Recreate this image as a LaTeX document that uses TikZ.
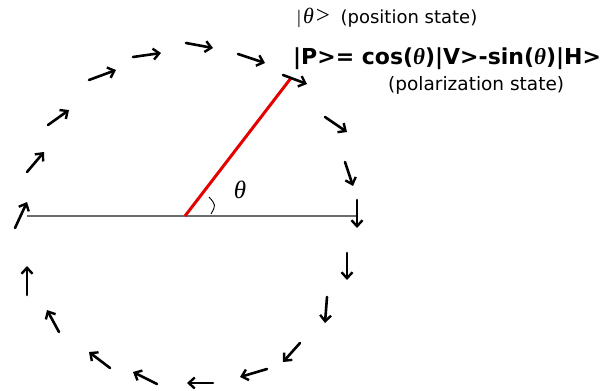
\documentclass[tikz,border=0pt]{standalone}
\usepackage{fontspec}
\setmainfont{DejaVu Sans}
\newfontfamily\serfont{Liberation Serif}
\usetikzlibrary{arrows.meta}
\newcommand\thsym[1]{{\serfont\itshape\fontsize{#1}{#1}\selectfont θ}}
\newcommand\serchar[2]{{\serfont\fontsize{#1}{#1}\selectfont #2}}
\tikzset{
  fieldarrow/.style={line width=2.6pt, black, line cap=round, -{Straight Barb[length=6pt,width=11pt,line width=2.4pt]}},
  label/.style={inner sep=0pt, anchor=base west, text=black},
}
\begin{document}
\begin{tikzpicture}[x=1pt,y=-1pt]
\useasboundingbox (0,0) rectangle (601,390);
% axis and polarization line
\coordinate (Lft) at (27,216);
\coordinate (Rgt) at (356,216);
\coordinate (O) at (185,216);
\coordinate (P) at (291,78);
\draw[line width=1.8pt, black!58] (Lft) -- (Rgt);
\draw[line width=3pt, red!90!black] (O) -- (P);
% angle mark
\coordinate (a1) at (211,214);
\coordinate (a2) at (216,205);
\coordinate (a3) at (209,197);
\draw[line width=0.9pt] (a1) .. controls (a2) .. (a3);
\node[inner sep=0pt] (th) at (240,190) {\thsym{25}};
% arrows around the circle
\foreach \tx/\ty/\hx/\hy in {
  15/228/27/202, 27/172/44/152, 48/125/69/110, 89/80/116/70,
  133/57/161/53, 186/43/213/48, 238/54/265/63, 283/75/307/84,
  325/117/347/132, 345/162/353/186, 357/200/357/228,
  347/253/347/280, 327/297/325/323, 300/343/283/362,
  267/369/240/377, 213/383/187/383, 157/384/133/372,
  110/368/89/352, 59/332/47/310, 27/295/27/266}{
  \draw[fieldarrow] (\tx,\ty) -- (\hx,\hy);
}
% texts
\node[label, font=\fontsize{18}{22}\selectfont] (pos) at (297,24) {\serchar{19}{|}\hspace{2pt}\thsym{22}\hspace{2pt}\serchar{25}{>}\hspace{5pt} (position state)};
\node[label, font=\fontsize{22}{26}\selectfont\bfseries] (state) at (293,65) {|P>= cos(\thsym{23})|V>-sin(\thsym{23})|H>};
\node[label, font=\fontsize{18.5}{22}\selectfont] (pol) at (388,91) {(polarization state)};
\end{tikzpicture}
\end{document}
